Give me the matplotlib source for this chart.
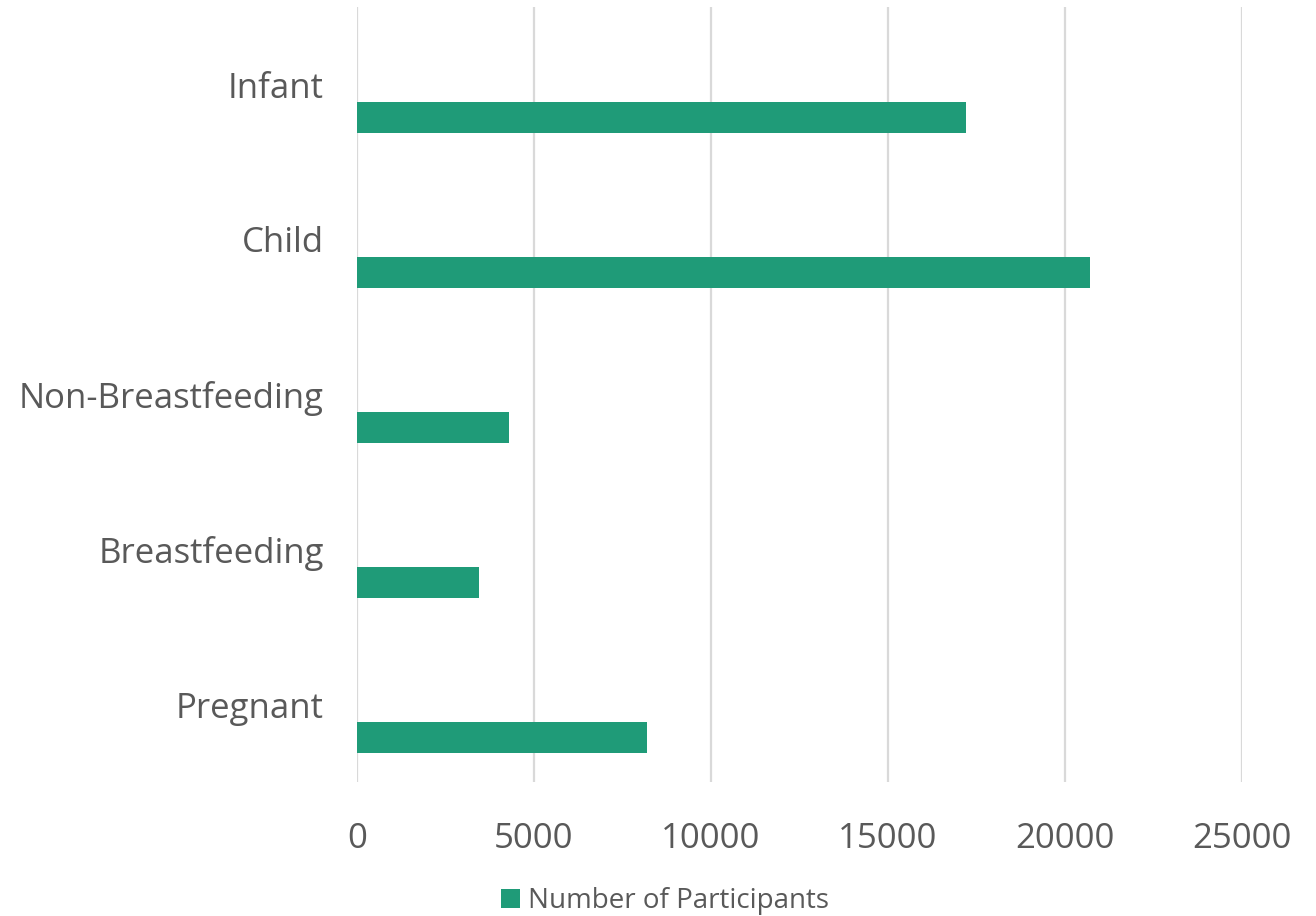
import matplotlib
matplotlib.use("Agg")
import matplotlib.pyplot as plt
from matplotlib.patches import Patch
import numpy as np

categories = ["Infant", "Child", "Non-Breastfeeding", "Breastfeeding", "Pregnant"]
participants = [17200, 20700, 4300, 3450, 8200]
x_ticks = [0, 5000, 10000, 15000, 20000, 25000]
series_name = "Number of Participants"

bar_color = "#1f9b78"
text_color = "#595959"
grid_color = "#d9d9d9"

plt.rcParams['font.family'] = ['Open Sans', 'DejaVu Sans']

fig = plt.figure(figsize=(13.16, 9.16), dpi=100)
ax = fig.add_axes([357/1316, 1 - 782/916, (1242 - 357)/1316, (782 - 7)/916])

pos = np.arange(len(categories))
ax.barh(pos + 0.21, participants, height=0.2, color=bar_color, zorder=3)

ax.set_ylim(len(categories) - 0.5, -0.5)
ax.set_xlim(0, 25000)
ax.set_xticks(x_ticks)
ax.set_xticklabels([str(t) for t in x_ticks])
ax.set_yticks(pos)
ax.set_yticklabels(categories)

ax.grid(axis='x', color=grid_color, linewidth=1.6, zorder=0)
for s in ax.spines.values():
    s.set_visible(False)
ax.tick_params(axis='both', length=0, labelcolor=text_color, labelsize=25)
ax.tick_params(axis='x', pad=29)
ax.tick_params(axis='y', pad=24)

handle = Patch(facecolor=bar_color, edgecolor='none', label=series_name)
fig.legend(handles=[handle], loc='center', bbox_to_anchor=(665/1316, 1 - 901/916),
           frameon=False, fontsize=20, labelcolor=text_color,
           handlelength=0.7, handleheight=0.7, handletextpad=0.3)

fig.savefig("out.png", dpi=100, facecolor='white')
